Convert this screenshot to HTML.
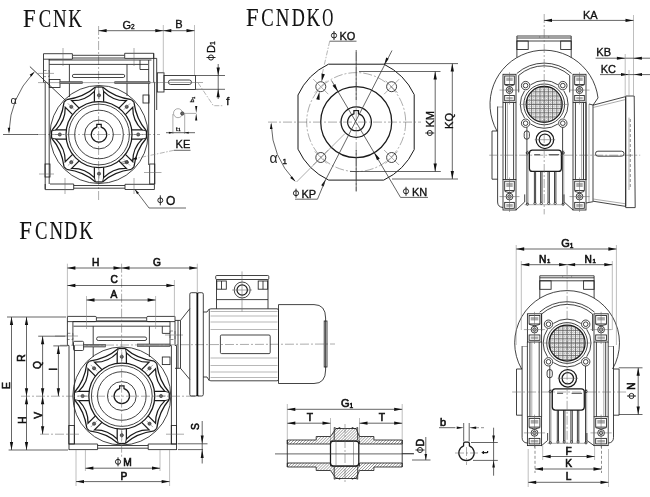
<!DOCTYPE html>
<html><head><meta charset="utf-8"><title>FCNK</title><style>
html,body{margin:0;padding:0;background:#fff}
svg{display:block;filter:grayscale(1) blur(.3px)}
.o{fill:none;stroke:#222;stroke-width:.85}
.t{fill:none;stroke:#666;stroke-width:.55}
.d{fill:none;stroke:#333;stroke-width:.75}
.c{fill:none;stroke:#666;stroke-width:.55;stroke-dasharray:9 2 2 2}
.l{fill:none;stroke:#777;stroke-width:.55;stroke-dasharray:5 1.5 1.5 1.5}
.ds{fill:none;stroke:#444;stroke-width:.6;stroke-dasharray:3 2}
.a{fill:#111;stroke:none}
.rod{fill:#999;stroke:#333;stroke-width:.6}
.bolt{fill:#666;stroke:#222;stroke-width:.6}
.hat{fill:none;stroke:#555;stroke-width:.5}
.ph{fill:none;stroke:#111;stroke-width:.9}
.tx{font-family:"Liberation Sans",sans-serif;fill:#111;stroke:#111;stroke-width:.35}
.tb{font-family:"Liberation Sans",sans-serif;fill:#111;stroke:#111;stroke-width:.6}
.tl{font-family:"Liberation Sans",sans-serif;fill:#222}
.ti{font-family:"Liberation Serif",serif;font-size:25.5px;fill:#111;stroke:#111;stroke-width:.15}
.w{fill:#fff;stroke:#222;stroke-width:.85}
.fillg{fill:#aaa;stroke:none}
.gbg{fill:#f6f6f6;stroke:none}
.gl{fill:none;stroke:#5a5a5a;stroke-width:.8}
.gl2{fill:none;stroke:#8a8a8a;stroke-width:.6;stroke-dasharray:1 1.1}
.fin{fill:none;stroke:#888;stroke-width:.6}
.e{fill:none;stroke:#888;stroke-width:.55}
.o2{fill:none;stroke:#1a1a1a;stroke-width:1}
.s2{fill:none;stroke:#111;stroke-width:1.7}
.s{fill:none;stroke:#1a1a1a;stroke-width:1.25}
</style></head>
<body><svg width="650" height="497" viewBox="0 0 650 497">
<rect x="0" y="0" width="650" height="497" fill="#fff"/>
<text class="ti" text-anchor="middle" transform="translate(29.4 27) scale(0.89 1)">F</text>
<text class="ti" text-anchor="middle" transform="translate(44.9 27) scale(0.73 1)">C</text>
<text class="ti" text-anchor="middle" transform="translate(59.7 27) scale(0.74 1)">N</text>
<text class="ti" text-anchor="middle" transform="translate(75 27) scale(0.74 1)">K</text>
<path class="c" d="M98.6 26L98.6 200"/>
<path class="c" d="M37 134.5L160 134.5"/>
<path class="d" d="M3 134.5L38 134.5"/>
<path class="o" d="M45.2 189.3L45.2 82.3L43.5 82.3L43.5 53.7L72.4 53.7L72.4 55.3L124.7 55.3L124.7 53.3L153.7 53.3L153.7 58.4"/>
<path class="o" d="M43.5 59.2L72.4 59.2"/>
<path class="o" d="M48.7 60L151.5 60"/>
<path class="o" d="M72.4 58L124.7 58"/>
<path class="o" d="M124.7 58.4L156.7 58.4"/>
<path class="o" d="M72.4 55.3L72.4 59"/>
<path class="o" d="M124.7 55.3L124.7 58.4"/>
<path class="o" d="M49.2 59L49.2 184"/>
<path class="o" d="M49.3 64.4L148 64.4"/>
<path class="o" d="M69.4 64.4L69.4 97"/>
<path class="o" d="M127 64.4L127 96"/>
<path class="o" d="M153.7 53.3L153.7 82.3L154.6 82.3L154.6 184"/>
<path class="o" d="M156.7 58.4L156.7 110"/>
<path class="o" d="M148.7 60L148.7 165"/>
<path class="o" d="M140 60L140 69.5L148.7 69.5"/>
<rect class="o" x="143" y="95" width="6" height="8"/>
<rect class="ds" x="43.5" y="70.5" width="5.7" height="6.1"/>
<path class="t" d="M38 73.4L54 73.4"/>
<rect class="o" x="45" y="164" width="5" height="13"/>
<path class="t" d="M39 174L54 174"/>
<rect class="o" x="149.7" y="164" width="5.1" height="20"/>
<path class="t" d="M144 172.5L161.5 172.5"/>
<path class="o" d="M45.2 184L45.2 189.6L73.7 189.6L73.7 184"/>
<path class="o" d="M50 184L73.7 184"/>
<path class="o" d="M73.7 185.5L125 185.5"/>
<path class="o" d="M73.7 188.2L125 188.2"/>
<path class="o" d="M125 184.3L125 189.5L154.4 189.5L154.4 184.3"/>
<path class="o" d="M125 184.3L154.4 184.3"/>
<path class="t" d="M65 178L65 194"/>
<path class="t" d="M134 178L134 194"/>
<path class="t" d="M63 48L63 66"/>
<path class="t" d="M134 48L134 66"/>
<rect class="o" x="72.4" y="74.4" width="52.3" height="3.1" rx="1.5"/>
<rect class="o" x="49.3" y="79.5" width="10.7" height="8"/>
<rect class="rod" x="60" y="81.7" width="22.5" height="1.9"/>
<rect class="rod" x="114.7" y="81.7" width="35.3" height="1.9"/>
<path class="t" d="M38 82.6L160 82.6"/>
<rect class="o" x="157.3" y="72.8" width="6.7" height="19.2"/>
<rect class="o" x="164" y="75.5" width="31.5" height="14"/>
<rect class="o" x="168.4" y="80" width="23.1" height="4.5" rx="2.2"/>
<path class="t" d="M160 82.5L203 82.5"/>
<circle class="o" cx="99" cy="134.5" r="49"/>
<path class="s" d="M146.47 131.01Q136.14 119.12 133.93 102.16"/>
<path class="s" d="M146.47 137.99L146.47 131.01"/>
<path class="s" d="M131.68 129.9L142.16 129.9Q132.44 120.65 132.77 107.24L125.36 114.65"/>
<path class="o" d="M146.47 137.99L142.16 139.1"/>
<path class="o" d="M146.47 131.01L142.16 129.9"/>
<circle class="bolt" cx="138.2" cy="134.5" r="1.6"/>
<path class="t" d="M134 134.5L143 134.5"/>
<path class="s" d="M131.34 99.57Q114.38 97.36 102.49 87.03"/>
<path class="s" d="M133.93 102.16L131.34 99.57"/>
<path class="s" d="M118.85 108.14L126.26 100.73Q112.85 101.06 103.6 91.34L103.6 101.82"/>
<circle class="bolt" cx="126.72" cy="106.78" r="1.6"/>
<path class="t" d="M123.75 109.75L130.11 103.39"/>
<path class="s" d="M95.51 87.03Q83.62 97.36 66.66 99.57"/>
<path class="s" d="M102.49 87.03L95.51 87.03"/>
<path class="s" d="M94.4 101.82L94.4 91.34Q85.15 101.06 71.74 100.73L79.15 108.14"/>
<path class="o" d="M102.49 87.03L103.6 91.34"/>
<path class="o" d="M95.51 87.03L94.4 91.34"/>
<circle class="bolt" cx="99" cy="95.3" r="1.6"/>
<path class="t" d="M99 99.5L99 90.5"/>
<path class="s" d="M64.07 102.16Q61.86 119.12 51.53 131.01"/>
<path class="s" d="M66.66 99.57L64.07 102.16"/>
<path class="s" d="M72.64 114.65L65.23 107.24Q65.56 120.65 55.84 129.9L66.32 129.9"/>
<circle class="bolt" cx="71.28" cy="106.78" r="1.6"/>
<path class="t" d="M74.25 109.75L67.89 103.39"/>
<path class="s" d="M51.53 137.99Q61.86 149.88 64.07 166.84"/>
<path class="s" d="M51.53 131.01L51.53 137.99"/>
<path class="s" d="M66.32 139.1L55.84 139.1Q65.56 148.35 65.23 161.76L72.64 154.35"/>
<path class="o" d="M51.53 131.01L55.84 129.9"/>
<path class="o" d="M51.53 137.99L55.84 139.1"/>
<circle class="bolt" cx="59.8" cy="134.5" r="1.6"/>
<path class="t" d="M64 134.5L55 134.5"/>
<path class="s" d="M66.66 169.43Q83.62 171.64 95.51 181.97"/>
<path class="s" d="M64.07 166.84L66.66 169.43"/>
<path class="s" d="M79.15 160.86L71.74 168.27Q85.15 167.94 94.4 177.66L94.4 167.18"/>
<circle class="bolt" cx="71.28" cy="162.22" r="1.6"/>
<path class="t" d="M74.25 159.25L67.89 165.61"/>
<path class="s" d="M102.49 181.97Q114.38 171.64 131.34 169.43"/>
<path class="s" d="M95.51 181.97L102.49 181.97"/>
<path class="s" d="M103.6 167.18L103.6 177.66Q112.85 167.94 126.26 168.27L118.85 160.86"/>
<path class="o" d="M95.51 181.97L94.4 177.66"/>
<path class="o" d="M102.49 181.97L103.6 177.66"/>
<circle class="bolt" cx="99" cy="173.7" r="1.6"/>
<path class="t" d="M99 169.5L99 178.5"/>
<path class="s" d="M133.93 166.84Q136.14 149.88 146.47 137.99"/>
<path class="s" d="M131.34 169.43L133.93 166.84"/>
<path class="s" d="M125.36 154.35L132.77 161.76Q132.44 148.35 142.16 139.1L131.68 139.1"/>
<circle class="bolt" cx="126.72" cy="162.22" r="1.6"/>
<path class="t" d="M123.75 159.25L130.11 165.61"/>
<circle class="s" cx="99" cy="134.5" r="33"/>
<circle class="o" cx="99" cy="134.5" r="30.4"/>
<circle class="o" cx="99" cy="134.5" r="24.3"/>
<circle class="o" cx="99" cy="134.5" r="14.4"/>
<path class="s" d="M101.2 127.12A7.7 7.7 0 1 1 96.8 127.12L96.8 124.3L101.2 124.3Z"/>
<path class="o" d="M29.9 66.6L66 100.8"/>
<path class="d" d="M33.18 73.12A90 90 0 0 0 9.05 131.36"/>
<path class="a" d="M34.81 71.42L31.48 76.58L29.65 74.74Z"/>
<path class="a" d="M9 133.71L7.7 127.71L10.3 127.71Z"/>
<text class="tl" x="10.5" y="104" font-size="11" text-anchor="start">α</text>
<path class="e" d="M163.3 25L163.3 72"/>
<path class="e" d="M194.5 25L194.5 75"/>
<path class="d" d="M98.6 30.7L194.5 30.7"/>
<path class="a" d="M98.6 30.7L106.6 29.05L106.6 32.35Z"/>
<path class="a" d="M163.3 30.7L155.3 32.35L155.3 29.05Z"/>
<path class="a" d="M163.3 30.7L171.3 29.05L171.3 32.35Z"/>
<path class="a" d="M194.5 30.7L186.5 32.35L186.5 29.05Z"/>
<text class="tx" x="122.5" y="28.5" font-size="11" text-anchor="start">G</text>
<text class="tx" x="131" y="28.5" font-size="6.5" text-anchor="start">2</text>
<text class="tx" x="175.3" y="27.8" font-size="11" text-anchor="start">B</text>
<path class="d" d="M195.5 75.5L225 75.5"/>
<path class="d" d="M195.5 89.3L225 89.3"/>
<path class="d" d="M218.2 64L218.2 99"/>
<path class="a" d="M218.2 75.5L216.55 67.5L219.85 67.5Z"/>
<path class="a" d="M218.2 89.3L219.85 97.3L216.55 97.3Z"/>
<text class="tx" x="215.3" y="53" font-size="11" text-anchor="start" transform="rotate(-90 215.3 53)">D</text>
<text class="tx" x="215.3" y="45" font-size="6.5" text-anchor="start" transform="rotate(-90 215.3 45)">1</text>
<g transform="rotate(-90 211 57.5)">
<ellipse class="ph" cx="211" cy="57.5" rx="2.6" ry="2.47"/>
<path class="ph" d="M211 53L211 62"/>
</g>
<path class="l" d="M198 82.8L213.4 105.7L223 105.7"/>
<text class="tx" x="226.3" y="104.5" font-size="11" text-anchor="start">f</text>
<circle class="t" cx="178" cy="113.2" r="4.5"/>
<circle class="bolt" cx="182.3" cy="113.5" r="1.7"/>
<path class="a" d="M196.2 113L195.1 106L197.3 106Z"/>
<path class="a" d="M196.2 113.3L197.3 120.5L195.1 120.5Z"/>
<path class="t" d="M184 113.4L196 113.4"/>
<path class="t" d="M172.9 114L172.9 134"/>
<path class="t" d="M184.7 114L184.7 134"/>
<path class="d" d="M166 132.7L195 132.7"/>
<path class="a" d="M172.9 132.7L168.9 133.7L168.9 131.7Z"/>
<path class="a" d="M184.7 132.7L188.7 131.7L188.7 133.7Z"/>
<text class="tx" x="176" y="130.5" font-size="6" text-anchor="start">t</text>
<text class="tx" x="178.2" y="131" font-size="4" text-anchor="start">1</text>
<text class="tx" x="194" y="102.5" font-size="6" text-anchor="start" transform="rotate(-90 194 102.5)">b</text>
<text class="tx" x="194.5" y="99" font-size="4" text-anchor="start" transform="rotate(-90 194.5 99)">1</text>
<text class="tx" x="175.6" y="148.4" font-size="11" text-anchor="start">KE</text>
<path class="d" d="M174 150.3L190.5 150.3"/>
<path class="l" d="M174 150.3L135 158.6"/>
<path class="a" d="M131 159.5L136.58 156.88L137.16 159.62Z"/>
<path class="rod" d="M121 162.5L128 160.5M122 164L129 162"/>
<path class="d" d="M135 189.5L149 208L186 208"/>
<path class="a" d="M135 189.5L138.97 192.77L137.05 194.22Z"/>
<ellipse class="ph" cx="160.3" cy="200.3" rx="2.5" ry="2.38"/>
<path class="ph" d="M160.3 195.3L160.3 205.3"/>
<text class="tx" x="166" y="205" font-size="12" text-anchor="start">O</text>
<text class="ti" text-anchor="middle" transform="translate(252.4 26) scale(0.89 1)">F</text>
<text class="ti" text-anchor="middle" transform="translate(267.5 26) scale(0.73 1)">C</text>
<text class="ti" text-anchor="middle" transform="translate(282.6 26) scale(0.74 1)">N</text>
<text class="ti" text-anchor="middle" transform="translate(298.2 26) scale(0.71 1)">D</text>
<text class="ti" text-anchor="middle" transform="translate(313.4 26) scale(0.74 1)">K</text>
<text class="ti" text-anchor="middle" transform="translate(327.9 26) scale(0.6 1)">O</text>
<path class="o2" d="M328.47 64.2L383.93 64.2A64.2 64.2 0 0 1 414.2 94.57L414.2 149.63A64.2 64.2 0 0 1 383.73 180.1L328.67 180.1A64.2 64.2 0 0 1 298 149.2L298 95A64.2 64.2 0 0 1 328.47 64.2Z"/>
<circle class="s" cx="356.2" cy="122.1" r="35.5"/>
<circle class="c" cx="356.2" cy="122.1" r="49.5"/>
<circle class="s" cx="356.2" cy="122.1" r="15.2"/>
<path class="s" d="M358.5 113.81A8.6 8.6 0 1 1 353.9 113.81L353.9 110.6L358.5 110.6Z"/>
<circle class="o" cx="320.8" cy="86.7" r="5"/>
<path class="t" d="M328.3 94.2L313.3 79.2"/>
<path class="t" d="M326.8 80.7L314.8 92.7"/>
<circle class="o" cx="320.8" cy="157.5" r="5"/>
<path class="t" d="M328.3 150L313.3 165"/>
<path class="t" d="M326.8 163.5L314.8 151.5"/>
<circle class="o" cx="391.6" cy="86.7" r="5"/>
<path class="t" d="M384.1 94.2L399.1 79.2"/>
<path class="t" d="M385.6 80.7L397.6 92.7"/>
<circle class="o" cx="391.6" cy="157.5" r="5"/>
<path class="t" d="M384.1 150L399.1 165"/>
<path class="t" d="M385.6 163.5L397.6 151.5"/>
<path class="c" d="M356.2 52L356.2 192"/>
<path class="c" d="M268 122.1L421 122.1"/>
<path class="d" d="M356.2 50L356.2 100"/>
<path class="d" d="M356.2 150L356.2 191"/>
<path class="d" d="M384 63.6L458 63.6"/>
<path class="d" d="M392 179L458 179"/>
<path class="d" d="M452.3 63.6L452.3 179"/>
<path class="a" d="M452.3 63.6L453.95 71.6L450.65 71.6Z"/>
<path class="a" d="M452.3 179L450.65 171L453.95 171Z"/>
<path class="d" d="M359 71.5L440.5 71.5"/>
<path class="d" d="M350 171.5L440.8 171.5"/>
<path class="d" d="M435.2 71.5L435.2 171.5"/>
<path class="a" d="M435.2 71.5L436.85 79.5L433.55 79.5Z"/>
<path class="a" d="M435.2 171.5L433.55 163.5L436.85 163.5Z"/>
<text class="tx" x="434" y="119.3" font-size="11" text-anchor="middle" transform="rotate(-90 434 119.3)">KM</text>
<g transform="rotate(-90 429.8 133)">
<ellipse class="ph" cx="429.8" cy="133" rx="2.6" ry="2.47"/>
<path class="ph" d="M429.8 128.5L429.8 137.5"/>
</g>
<text class="tx" x="453" y="121" font-size="11" text-anchor="middle" transform="rotate(-90 453 121)">KQ</text>
<path class="d" d="M392 50.5L325 181"/>
<path class="a" d="M384.3 64.4L386.19 57.52L388.7 58.78Z"/>
<path class="a" d="M325.6 179.6L323.71 186.48L321.2 185.22Z"/>
<path class="d" d="M325 181L317.5 199.2L295 199.2"/>
<ellipse class="ph" cx="296" cy="193.2" rx="2.6" ry="2.47"/>
<path class="ph" d="M296 188.7L296 197.7"/>
<text class="tx" x="301.5" y="197.6" font-size="11" text-anchor="start">KP</text>
<ellipse class="ph" cx="334" cy="35.5" rx="2.6" ry="2.47"/>
<path class="ph" d="M334 31L334 40"/>
<text class="tx" x="339.5" y="39.6" font-size="11" text-anchor="start">KO</text>
<path class="d" d="M329.7 41.2L356.5 41.2"/>
<path class="l" d="M329.7 41.2L322 75"/>
<path class="a" d="M321.6 81.8L321.53 73.62L324.86 74.3Z"/>
<path class="a" d="M319.5 91.7L319.57 99.88L316.24 99.2Z"/>
<path class="d" d="M331.5 80.5L400.5 197.4L428 197.4"/>
<path class="a" d="M338 91.8L332.54 85.74L335.29 84.1Z"/>
<path class="a" d="M374.3 152.5L379.76 158.56L377.01 160.2Z"/>
<ellipse class="ph" cx="406" cy="191.3" rx="2.6" ry="2.47"/>
<path class="ph" d="M406 186.8L406 195.8"/>
<text class="tx" x="412" y="195.7" font-size="11" text-anchor="start">KN</text>
<path class="d" d="M271.23 124.33A85 85 0 0 0 294.54 180.61"/>
<path class="a" d="M271.2 122.55L272.5 129.05L269.9 129.05Z"/>
<path class="a" d="M295.68 181.78L290.16 178.11L292 176.27Z"/>
<path class="t" d="M296.5 182L345 133.5"/>
<text class="tl" x="269.5" y="162.5" font-size="14" text-anchor="start">α</text>
<text class="tx" x="282.5" y="163.5" font-size="8" text-anchor="start">1</text>
<path class="o" d="M516.9 57.52L516.9 36L571.2 36L571.2 57.52"/>
<path class="o" d="M516.9 38L571.2 38"/>
<path class="o" d="M516.9 41L571.2 41"/>
<rect class="o" x="516.9" y="41" width="11.3" height="8.5"/>
<rect class="o" x="560.7" y="41" width="10.5" height="8.5"/>
<path class="t" d="M539.7 36L539.7 38"/>
<path class="t" d="M548.7 36L548.7 38"/>
<path class="o" d="M598.01 97.9A54.2 54.2 0 1 0 496.98 131"/>
<path class="o" d="M497.6 106.5V202Q497.6 207 503 207.5"/>
<path class="o" d="M497.6 131H492V179.2H497.6"/>
<path class="t" d="M497.6 107L503 107"/>
<path class="o" d="M571.6 73.5A41.3 41.3 0 0 0 516.8 73.5"/>
<path class="o" d="M569.7 75.42A38.6 38.6 0 0 0 518.7 75.42"/>
<path class="o" d="M518.7 75.4L518.7 92.4"/>
<path class="o" d="M569.7 75.4L569.7 92.4"/>
<rect class="o" x="503" y="74.3" width="13" height="28.2"/>
<rect class="o" x="504.7" y="76" width="9.6" height="8.45"/>
<rect class="o" x="504.7" y="95.45" width="9.6" height="5.35"/>
<rect class="fillg" x="506.3" y="77.6" width="6.4" height="3.35"/>
<rect class="fillg" x="506.3" y="97.05" width="6.4" height="2.35"/>
<circle class="o" cx="509.5" cy="90.09" r="3.4"/>
<circle class="o" cx="509.5" cy="90.09" r="1.7"/>
<path class="t" d="M499.5 90.09L519.5 90.09"/>
<path class="t" d="M509.5 72.3L509.5 104.5"/>
<path class="o" d="M504.7 84.89Q509.5 87.59 514.3 84.89"/>
<rect class="o" x="503" y="179.5" width="13" height="30.5"/>
<rect class="o" x="504.7" y="181.2" width="9.6" height="9.28"/>
<rect class="o" x="504.7" y="202.38" width="9.6" height="5.93"/>
<rect class="fillg" x="506.3" y="182.8" width="6.4" height="4.18"/>
<rect class="fillg" x="506.3" y="203.97" width="6.4" height="2.93"/>
<circle class="o" cx="509.5" cy="196.58" r="3.4"/>
<circle class="o" cx="509.5" cy="196.58" r="1.7"/>
<path class="t" d="M499.5 196.58L519.5 196.58"/>
<path class="t" d="M509.5 177.5L509.5 212"/>
<path class="o" d="M504.7 191.38Q509.5 194.08 514.3 191.38"/>
<path class="o" d="M516 102.5L516 179.5"/>
<path class="o" d="M513.6 102.5L513.6 179.5"/>
<path class="o" d="M505.5 102.5L505.5 179.5"/>
<path class="o" d="M503 102.5L503 179.5"/>
<path class="t" d="M507.4 102.5L507.4 179.5"/>
<rect class="o" x="573" y="74.3" width="13" height="28.2"/>
<rect class="o" x="574.7" y="76" width="9.6" height="8.45"/>
<rect class="o" x="574.7" y="95.45" width="9.6" height="5.35"/>
<rect class="fillg" x="576.3" y="77.6" width="6.4" height="3.35"/>
<rect class="fillg" x="576.3" y="97.05" width="6.4" height="2.35"/>
<circle class="o" cx="579.5" cy="90.09" r="3.4"/>
<circle class="o" cx="579.5" cy="90.09" r="1.7"/>
<path class="t" d="M569.5 90.09L589.5 90.09"/>
<path class="t" d="M579.5 72.3L579.5 104.5"/>
<path class="o" d="M574.7 84.89Q579.5 87.59 584.3 84.89"/>
<rect class="o" x="573" y="179.5" width="13" height="30.5"/>
<rect class="o" x="574.7" y="181.2" width="9.6" height="9.28"/>
<rect class="o" x="574.7" y="202.38" width="9.6" height="5.93"/>
<rect class="fillg" x="576.3" y="182.8" width="6.4" height="4.18"/>
<rect class="fillg" x="576.3" y="203.97" width="6.4" height="2.93"/>
<circle class="o" cx="579.5" cy="196.58" r="3.4"/>
<circle class="o" cx="579.5" cy="196.58" r="1.7"/>
<path class="t" d="M569.5 196.58L589.5 196.58"/>
<path class="t" d="M579.5 177.5L579.5 212"/>
<path class="o" d="M574.7 191.38Q579.5 194.08 584.3 191.38"/>
<path class="o" d="M573 102.5L573 179.5"/>
<path class="o" d="M575.4 102.5L575.4 179.5"/>
<path class="o" d="M583.5 102.5L583.5 179.5"/>
<path class="o" d="M586 102.5L586 179.5"/>
<path class="t" d="M581.6 102.5L581.6 179.5"/>
<clipPath id="g544"><circle cx="544.2" cy="104.4" r="18"/></clipPath>
<g clip-path="url(#g544)">
<rect class="gbg" x="526.2" y="86.4" width="36" height="36"/>
<path class="gl" d="M523.2 86.4L523.2 122.4"/>
<path class="gl" d="M526.2 83.4L562.2 83.4"/>
<path class="gl2" d="M525.3 86.4L525.3 122.4"/>
<path class="gl2" d="M526.2 85.5L562.2 85.5"/>
<path class="gl" d="M527.4 86.4L527.4 122.4"/>
<path class="gl" d="M526.2 87.6L562.2 87.6"/>
<path class="gl2" d="M529.5 86.4L529.5 122.4"/>
<path class="gl2" d="M526.2 89.7L562.2 89.7"/>
<path class="gl" d="M531.6 86.4L531.6 122.4"/>
<path class="gl" d="M526.2 91.8L562.2 91.8"/>
<path class="gl2" d="M533.7 86.4L533.7 122.4"/>
<path class="gl2" d="M526.2 93.9L562.2 93.9"/>
<path class="gl" d="M535.8 86.4L535.8 122.4"/>
<path class="gl" d="M526.2 96L562.2 96"/>
<path class="gl2" d="M537.9 86.4L537.9 122.4"/>
<path class="gl2" d="M526.2 98.1L562.2 98.1"/>
<path class="gl" d="M540 86.4L540 122.4"/>
<path class="gl" d="M526.2 100.2L562.2 100.2"/>
<path class="gl2" d="M542.1 86.4L542.1 122.4"/>
<path class="gl2" d="M526.2 102.3L562.2 102.3"/>
<path class="gl" d="M544.2 86.4L544.2 122.4"/>
<path class="gl" d="M526.2 104.4L562.2 104.4"/>
<path class="gl2" d="M546.3 86.4L546.3 122.4"/>
<path class="gl2" d="M526.2 106.5L562.2 106.5"/>
<path class="gl" d="M548.4 86.4L548.4 122.4"/>
<path class="gl" d="M526.2 108.6L562.2 108.6"/>
<path class="gl2" d="M550.5 86.4L550.5 122.4"/>
<path class="gl2" d="M526.2 110.7L562.2 110.7"/>
<path class="gl" d="M552.6 86.4L552.6 122.4"/>
<path class="gl" d="M526.2 112.8L562.2 112.8"/>
<path class="gl2" d="M554.7 86.4L554.7 122.4"/>
<path class="gl2" d="M526.2 114.9L562.2 114.9"/>
<path class="gl" d="M556.8 86.4L556.8 122.4"/>
<path class="gl" d="M526.2 117L562.2 117"/>
<path class="gl2" d="M558.9 86.4L558.9 122.4"/>
<path class="gl2" d="M526.2 119.1L562.2 119.1"/>
<path class="gl" d="M561 86.4L561 122.4"/>
<path class="gl" d="M526.2 121.2L562.2 121.2"/>
<path class="gl2" d="M563.1 86.4L563.1 122.4"/>
<path class="gl2" d="M526.2 123.3L562.2 123.3"/>
<path class="gl" d="M565.2 86.4L565.2 122.4"/>
<path class="gl" d="M526.2 125.4L562.2 125.4"/>
<path class="gl2" d="M567.3 86.4L567.3 122.4"/>
<path class="gl2" d="M526.2 127.5L562.2 127.5"/>
</g>
<circle class="s" cx="544.2" cy="104.4" r="18"/>
<circle class="o" cx="544.2" cy="104.4" r="20.4"/>
<circle class="w" cx="525.6" cy="85.6" r="4.2"/>
<circle class="o" cx="525.6" cy="85.6" r="2.3"/>
<circle class="w" cx="525.6" cy="123.2" r="4.2"/>
<circle class="o" cx="525.6" cy="123.2" r="2.3"/>
<circle class="w" cx="562.8" cy="85.6" r="4.2"/>
<circle class="o" cx="562.8" cy="85.6" r="2.3"/>
<circle class="w" cx="562.8" cy="123.2" r="4.2"/>
<circle class="o" cx="562.8" cy="123.2" r="2.3"/>
<path class="o" d="M563.78 118.11A23.9 23.9 0 0 0 563.78 90.69"/>
<path class="o" d="M557.91 84.82A23.9 23.9 0 0 0 530.49 84.82"/>
<path class="o" d="M524.62 90.69A23.9 23.9 0 0 0 524.62 118.11"/>
<path class="o" d="M530.49 123.98A23.9 23.9 0 0 0 557.91 123.98"/>
<rect class="o" x="524.2" y="130.9" width="5.2" height="8.3" rx="2.5"/>
<circle class="s" cx="544.9" cy="139.7" r="8.8"/>
<circle class="s" cx="544.9" cy="139.7" r="5.7"/>
<path class="t" d="M534.7 139.7L555.2 139.7"/>
<path class="o" d="M526.9 127.4L526.9 203.9"/>
<path class="t" d="M528.1 150.4L528.1 203.9"/>
<circle class="o" cx="527.4" cy="204.2" r="1.1"/>
<circle class="o" cx="527.4" cy="152.9" r="1.2"/>
<path class="o" d="M562.6 127.4L562.6 203.9"/>
<path class="t" d="M563.8 150.4L563.8 203.9"/>
<circle class="o" cx="563.1" cy="204.2" r="1.1"/>
<circle class="o" cx="563.1" cy="152.9" r="1.2"/>
<rect class="s" x="529.4" y="150.2" width="32" height="21.2" rx="3"/>
<path class="o" d="M534.2 154.7L540.2 154.7"/>
<path class="o" d="M548.7 154.7L559.2 154.7"/>
<path class="o" d="M534.4 171.4L534.4 202.4"/>
<path class="o" d="M535.6 171.4L535.6 202.4"/>
<circle class="o" cx="535" cy="203.4" r="1.1"/>
<path class="o" d="M540.6 171.4L540.6 202.4"/>
<path class="o" d="M542 171.4L542 202.4"/>
<circle class="o" cx="541.3" cy="203.4" r="1.1"/>
<path class="o" d="M548 171.4L548 202.4"/>
<path class="o" d="M549.4 171.4L549.4 202.4"/>
<circle class="o" cx="548.7" cy="203.4" r="1.1"/>
<path class="o" d="M554.5 171.4L554.5 202.4"/>
<path class="o" d="M555.9 171.4L555.9 202.4"/>
<circle class="o" cx="555.2" cy="203.4" r="1.1"/>
<path class="o" d="M516 210L524.7 201.9L524.7 194.4"/>
<path class="o" d="M573 210L564 201.9L564 194.4"/>
<path class="t" d="M524.7 204.7L564 204.7"/>
<path class="c" d="M489.2 155.2L640.2 155.2"/>
<path class="c" d="M544.2 14L544.2 214.4"/>
<path class="t" d="M520.2 104.4L568.2 104.4"/>
<path class="o" d="M598 97.9L593 105.2"/>
<path class="o" d="M586 102.5L586 180"/>
<path class="t" d="M589 104L589 202"/>
<path class="o" d="M593 105.2V201.2L625.7 206.4V96.6Z"/>
<path class="t" d="M593 107.5L625.7 99.5"/>
<path class="t" d="M593 199L625.7 203.8"/>
<path class="o" d="M625.7 96H634.2L635.2 207.6H625.7Z"/>
<path class="t" d="M629 117.6L629 190"/>
<path class="ds" d="M630.3 119L630.3 188"/>
<path class="o" d="M593 201.7L586 203"/>
<rect class="o" x="595.5" y="151.2" width="28.5" height="5" rx="2.4"/>
<path class="o" d="M593 105L589 104"/>
<path class="e" d="M633.5 15L633.5 96"/>
<path class="d" d="M544 20.4L633.5 20.4"/>
<path class="a" d="M544 20.4L552 18.75L552 22.05Z"/>
<path class="a" d="M633.5 20.4L625.5 22.05L625.5 18.75Z"/>
<text class="tx" x="583" y="19" font-size="11" text-anchor="start">KA</text>
<text class="tx" x="596.3" y="56.2" font-size="11" text-anchor="start">KB</text>
<path class="d" d="M595.6 58.2L650 58.2"/>
<path class="a" d="M625.4 58.2L616.9 59.7L616.9 56.7Z"/>
<path class="a" d="M633.4 58.2L641.9 56.7L641.9 59.7Z"/>
<text class="tx" x="600.7" y="73.2" font-size="11" text-anchor="start">KC</text>
<path class="d" d="M600 74.6L650 74.6"/>
<path class="a" d="M629 74.6L621 76.1L621 73.1Z"/>
<path class="a" d="M634 74.6L642 73.1L642 76.1Z"/>
<path class="e" d="M625.2 54L625.2 97"/>
<path class="e" d="M629 70L629 97"/>
<text class="ti" text-anchor="middle" transform="translate(25.6 238.8) scale(0.89 1)">F</text>
<text class="ti" text-anchor="middle" transform="translate(41.2 238.8) scale(0.73 1)">C</text>
<text class="ti" text-anchor="middle" transform="translate(56.3 238.8) scale(0.74 1)">N</text>
<text class="ti" text-anchor="middle" transform="translate(70.9 238.8) scale(0.71 1)">D</text>
<text class="ti" text-anchor="middle" transform="translate(86 238.8) scale(0.74 1)">K</text>
<path class="o" d="M69 450V345.5H67.4V316.4H95.2Q96.4 316.4 96.4 317.6V320.4Q96.4 321.6 95.2 321.6H67.4"/>
<path class="o" d="M176.5 450V345.5H175.0V316.4H147.9Q146.7 316.4 146.7 317.6V320.4Q146.7 321.6 147.9 321.6H175.0"/>
<path class="o" d="M96.4 317.8L146.7 317.8"/>
<path class="o" d="M96.4 320.9L146.7 320.9"/>
<path class="o" d="M72.9 321.6L72.9 345.5L74.4 345.5L74.4 444"/>
<path class="o" d="M72.9 321.6L170 321.6"/>
<path class="o" d="M73.5 326.2L170 326.2"/>
<path class="o" d="M170 321.6L170 345.5L171.4 345.5L171.4 444"/>
<path class="o" d="M93.2 326.2L93.2 357"/>
<path class="o" d="M149.4 326.2L149.4 357"/>
<path class="o" d="M162.3 326.2L162.3 333.4L170 333.4"/>
<rect class="o" x="162.3" y="357" width="7.7" height="7.6"/>
<rect class="ds" x="67.4" y="333.3" width="5.5" height="6.2"/>
<path class="t" d="M55 336L78 336"/>
<rect class="o" x="68.8" y="425.5" width="5.5" height="18.5"/>
<path class="c" d="M40 434.2L79 434.2"/>
<rect class="o" x="171.3" y="425.5" width="5.1" height="18.5"/>
<path class="t" d="M166 434.2L184 434.2"/>
<rect class="ds" x="170" y="331" width="5" height="8.5"/>
<path class="t" d="M165 335L183 335"/>
<path class="o" d="M69 444L97.6 444L97.6 449.6L69 449.6"/>
<path class="o" d="M176.5 444L148.2 444L148.2 449.6L176.5 449.6"/>
<path class="o" d="M97.6 445.5L148.2 445.5"/>
<path class="o" d="M97.6 448.2L148.2 448.2"/>
<rect class="o" x="96.6" y="337" width="50" height="3.5" rx="1.6"/>
<rect class="o" x="73.5" y="341.3" width="10.1" height="9.2" rx="1.2"/>
<rect class="rod" x="83.6" y="344.3" width="21.9" height="2.7"/>
<rect class="rod" x="137.5" y="344" width="32.5" height="2.4"/>
<circle class="o" cx="121.8" cy="396" r="49"/>
<path class="s" d="M169.27 392.51Q158.94 380.62 156.73 363.66"/>
<path class="s" d="M169.27 399.49L169.27 392.51"/>
<path class="s" d="M154.48 391.4L164.96 391.4Q155.24 382.15 155.57 368.74L148.16 376.15"/>
<path class="o" d="M169.27 399.49L164.96 400.6"/>
<path class="o" d="M169.27 392.51L164.96 391.4"/>
<circle class="bolt" cx="161" cy="396" r="1.6"/>
<path class="t" d="M156.8 396L165.8 396"/>
<path class="s" d="M154.14 361.07Q137.18 358.86 125.29 348.53"/>
<path class="s" d="M156.73 363.66L154.14 361.07"/>
<path class="s" d="M141.65 369.64L149.06 362.23Q135.65 362.56 126.4 352.84L126.4 363.32"/>
<circle class="bolt" cx="149.52" cy="368.28" r="1.6"/>
<path class="t" d="M146.55 371.25L152.91 364.89"/>
<path class="s" d="M118.31 348.53Q106.42 358.86 89.46 361.07"/>
<path class="s" d="M125.29 348.53L118.31 348.53"/>
<path class="s" d="M117.2 363.32L117.2 352.84Q107.95 362.56 94.54 362.23L101.95 369.64"/>
<path class="o" d="M125.29 348.53L126.4 352.84"/>
<path class="o" d="M118.31 348.53L117.2 352.84"/>
<circle class="bolt" cx="121.8" cy="356.8" r="1.6"/>
<path class="t" d="M121.8 361L121.8 352"/>
<path class="s" d="M86.87 363.66Q84.66 380.62 74.33 392.51"/>
<path class="s" d="M89.46 361.07L86.87 363.66"/>
<path class="s" d="M95.44 376.15L88.03 368.74Q88.36 382.15 78.64 391.4L89.12 391.4"/>
<circle class="bolt" cx="94.08" cy="368.28" r="1.6"/>
<path class="t" d="M97.05 371.25L90.69 364.89"/>
<path class="s" d="M74.33 399.49Q84.66 411.38 86.87 428.34"/>
<path class="s" d="M74.33 392.51L74.33 399.49"/>
<path class="s" d="M89.12 400.6L78.64 400.6Q88.36 409.85 88.03 423.26L95.44 415.85"/>
<path class="o" d="M74.33 392.51L78.64 391.4"/>
<path class="o" d="M74.33 399.49L78.64 400.6"/>
<circle class="bolt" cx="82.6" cy="396" r="1.6"/>
<path class="t" d="M86.8 396L77.8 396"/>
<path class="s" d="M89.46 430.93Q106.42 433.14 118.31 443.47"/>
<path class="s" d="M86.87 428.34L89.46 430.93"/>
<path class="s" d="M101.95 422.36L94.54 429.77Q107.95 429.44 117.2 439.16L117.2 428.68"/>
<circle class="bolt" cx="94.08" cy="423.72" r="1.6"/>
<path class="t" d="M97.05 420.75L90.69 427.11"/>
<path class="s" d="M125.29 443.47Q137.18 433.14 154.14 430.93"/>
<path class="s" d="M118.31 443.47L125.29 443.47"/>
<path class="s" d="M126.4 428.68L126.4 439.16Q135.65 429.44 149.06 429.77L141.65 422.36"/>
<path class="o" d="M118.31 443.47L117.2 439.16"/>
<path class="o" d="M125.29 443.47L126.4 439.16"/>
<circle class="bolt" cx="121.8" cy="435.2" r="1.6"/>
<path class="t" d="M121.8 431L121.8 440"/>
<path class="s" d="M156.73 428.34Q158.94 411.38 169.27 399.49"/>
<path class="s" d="M154.14 430.93L156.73 428.34"/>
<path class="s" d="M148.16 415.85L155.57 423.26Q155.24 409.85 164.96 400.6L154.48 400.6"/>
<circle class="bolt" cx="149.52" cy="423.72" r="1.6"/>
<path class="t" d="M146.55 420.75L152.91 427.11"/>
<circle class="s" cx="121.8" cy="396" r="33"/>
<circle class="o" cx="121.8" cy="396" r="30.4"/>
<circle class="o" cx="121.8" cy="396" r="24.3"/>
<circle class="o" cx="121.8" cy="396" r="14.4"/>
<path class="s" d="M124 388.62A7.7 7.7 0 1 1 119.6 388.62L119.6 385.8L124 385.8Z"/>
<path class="c" d="M121.6 263.7L121.6 458"/>
<path class="c" d="M21 396.2L200 396.2"/>
<path class="c" d="M60 345.3L335 344"/>
<path class="o" d="M175 320.4L180.5 320.4L189.8 308.7"/>
<path class="o" d="M175 368.3L180.5 368.3L189.8 379.4"/>
<path class="o" d="M180.5 320.4L180.5 368.3"/>
<path class="o" d="M178 320.4L178 368.3"/>
<rect class="o" x="189.8" y="292.7" width="7.6" height="103.3" rx="1.5"/>
<rect class="o" x="197.4" y="292.7" width="5.9" height="103.3" rx="1.5"/>
<path class="s2" d="M197.4 292.7L197.4 396"/>
<path class="o" d="M203.2 312L207 312L209.3 308.8"/>
<path class="o" d="M203.2 377L207 377L209.3 380.8"/>
<rect class="o" x="209.3" y="308.8" width="69.2" height="72" rx="1.5"/>
<path class="fin" d="M210.5 311.5L277.5 311.5"/>
<path class="fin" d="M210.5 316L277.5 316"/>
<path class="fin" d="M210.5 322L277.5 322"/>
<path class="fin" d="M210.5 329.5L277.5 329.5"/>
<path class="fin" d="M210.5 358L277.5 358"/>
<path class="fin" d="M210.5 365.5L277.5 365.5"/>
<path class="fin" d="M210.5 372L277.5 372"/>
<path class="fin" d="M210.5 377.5L277.5 377.5"/>
<rect class="o" x="220.4" y="335" width="49.8" height="18.6" rx="1.2"/>
<path class="o" d="M278.5 304.6H314Q325.6 304.6 325.6 318V370Q325.6 383.5 314 383.5H278.5Z"/>
<rect class="o" x="324.2" y="321" width="2.8" height="46"/>
<rect class="o" x="215.7" y="275.5" width="53.1" height="4" rx="1"/>
<path class="o" d="M216.5 279.5L216.5 308.8"/>
<path class="o" d="M268 279.5L268 308.8"/>
<rect class="o" x="216.8" y="281" width="9.5" height="8.2"/>
<rect class="o" x="258.2" y="281" width="9.5" height="8.2"/>
<path class="o" d="M221.5 281L221.5 289.2"/>
<path class="o" d="M263 281L263 289.2"/>
<path class="o" d="M216.5 299.6L268 299.6"/>
<circle class="o" cx="242.2" cy="290" r="8"/>
<circle class="s" cx="242.2" cy="290" r="5.2"/>
<path class="t" d="M242 271.4L242 311.5"/>
<path class="t" d="M232 290L252 290"/>
<path class="e" d="M67.4 263.7L67.4 317"/>
<path class="e" d="M174.4 280L174.4 317"/>
<path class="e" d="M86.5 296L86.5 329"/>
<path class="e" d="M155.6 296L155.6 329"/>
<path class="e" d="M197.3 263.7L197.3 292"/>
<path class="d" d="M67.4 268L197.3 268"/>
<path class="a" d="M67.4 268L75.4 266.35L75.4 269.65Z"/>
<path class="a" d="M121.5 268L113.5 269.65L113.5 266.35Z"/>
<path class="a" d="M121.5 268L129.5 266.35L129.5 269.65Z"/>
<path class="a" d="M197.3 268L189.3 269.65L189.3 266.35Z"/>
<text class="tb" x="92" y="265.8" font-size="10.2" text-anchor="start">H</text>
<text class="tb" x="153" y="265.8" font-size="10.2" text-anchor="start">G</text>
<path class="d" d="M67.4 285.5L174.4 285.5"/>
<path class="a" d="M67.4 285.5L75.4 283.85L75.4 287.15Z"/>
<path class="a" d="M174.4 285.5L166.4 287.15L166.4 283.85Z"/>
<text class="tb" x="110.5" y="283" font-size="10.2" text-anchor="start">C</text>
<path class="d" d="M86.5 300L155.6 300"/>
<path class="a" d="M86.5 300L94.5 298.35L94.5 301.65Z"/>
<path class="a" d="M155.6 300L147.6 301.65L147.6 298.35Z"/>
<text class="tb" x="110.5" y="298.3" font-size="10.2" text-anchor="start">A</text>
<path class="d" d="M7 317L66 317"/>
<path class="d" d="M8.6 450L68 450"/>
<path class="d" d="M11.5 317L11.5 450"/>
<path class="a" d="M11.5 317L13.15 325L9.85 325Z"/>
<path class="a" d="M11.5 450L9.85 442L13.15 442Z"/>
<text class="tb" x="10" y="385.5" font-size="10.2" text-anchor="middle" transform="rotate(-90 10 385.5)">E</text>
<path class="d" d="M26.5 317L26.5 450"/>
<path class="a" d="M26.5 317L28.15 325L24.85 325Z"/>
<path class="a" d="M26.5 396.2L24.85 388.2L28.15 388.2Z"/>
<path class="a" d="M26.5 396.2L28.15 404.2L24.85 404.2Z"/>
<path class="a" d="M26.5 450L24.85 442L28.15 442Z"/>
<text class="tb" x="25" y="358" font-size="10.2" text-anchor="middle" transform="rotate(-90 25 358)">R</text>
<text class="tb" x="25.5" y="420" font-size="10.2" text-anchor="middle" transform="rotate(-90 25.5 420)">H</text>
<path class="d" d="M38.2 336.2L65.4 336.2"/>
<path class="d" d="M42.6 336.2L42.6 434.2"/>
<path class="a" d="M42.6 336.2L44.25 344.2L40.95 344.2Z"/>
<path class="a" d="M42.6 396.2L40.95 388.2L44.25 388.2Z"/>
<path class="a" d="M42.6 396.2L44.25 404.2L40.95 404.2Z"/>
<path class="a" d="M42.6 434.2L40.95 426.2L44.25 426.2Z"/>
<text class="tb" x="41.2" y="365" font-size="10.2" text-anchor="middle" transform="rotate(-90 41.2 365)">Q</text>
<text class="tb" x="42" y="415.4" font-size="10.2" text-anchor="middle" transform="rotate(-90 42 415.4)">V</text>
<path class="d" d="M53.3 345.9L67.4 345.9"/>
<path class="d" d="M58.4 345.9L58.4 396.2"/>
<path class="a" d="M58.4 345.9L60.05 353.9L56.75 353.9Z"/>
<path class="a" d="M58.4 396.2L56.75 388.2L60.05 388.2Z"/>
<text class="tb" x="57" y="369.4" font-size="10.2" text-anchor="middle" transform="rotate(-90 57 369.4)">I</text>
<path class="d" d="M177.6 443.8L207.5 443.8"/>
<path class="d" d="M178 449.6L203 449.6"/>
<path class="d" d="M202.2 421L202.2 463.5"/>
<path class="a" d="M202.2 443.8L200.7 435.5L203.7 435.5Z"/>
<path class="a" d="M202.2 449.6L203.7 457.9L200.7 457.9Z"/>
<text class="tb" x="199.3" y="426.5" font-size="10.2" text-anchor="middle" transform="rotate(-90 199.3 426.5)">S</text>
<path class="e" d="M85.4 450L85.4 471"/>
<path class="e" d="M160 450L160 471"/>
<path class="e" d="M76 450L76 486"/>
<path class="e" d="M169.6 450L169.6 486"/>
<path class="d" d="M85.4 468.2L160 468.2"/>
<path class="a" d="M85.4 468.2L93.4 466.55L93.4 469.85Z"/>
<path class="a" d="M160 468.2L152 469.85L152 466.55Z"/>
<path class="d" d="M76 481.6L169.6 481.6"/>
<path class="a" d="M76 481.6L84 479.95L84 483.25Z"/>
<path class="a" d="M169.6 481.6L161.6 483.25L161.6 479.95Z"/>
<ellipse class="ph" cx="118" cy="461.8" rx="2.6" ry="2.47"/>
<path class="ph" d="M118 457.3L118 466.3"/>
<text class="tb" x="123.3" y="466" font-size="10.2" text-anchor="start">M</text>
<text class="tb" x="120.5" y="480" font-size="10.2" text-anchor="start">P</text>
<path class="e" d="M287.3 404L287.3 441"/>
<path class="e" d="M402.2 404L402.2 441"/>
<path class="e" d="M330.5 418L330.5 441"/>
<path class="e" d="M359.5 418L359.5 441"/>
<path class="d" d="M287.3 409.3L402.2 409.3"/>
<path class="a" d="M287.3 409.3L295.3 407.65L295.3 410.95Z"/>
<path class="a" d="M402.2 409.3L394.2 410.95L394.2 407.65Z"/>
<text class="tb" x="341" y="407.3" font-size="11" text-anchor="start">G</text>
<text class="tb" x="349.5" y="407.8" font-size="6.5" text-anchor="start">1</text>
<path class="d" d="M287.3 423.2L330.5 423.2"/>
<path class="a" d="M287.3 423.2L295.3 421.55L295.3 424.85Z"/>
<path class="a" d="M330.5 423.2L322.5 424.85L322.5 421.55Z"/>
<path class="d" d="M359.5 423.2L402.2 423.2"/>
<path class="a" d="M359.5 423.2L367.5 421.55L367.5 424.85Z"/>
<path class="a" d="M402.2 423.2L394.2 424.85L394.2 421.55Z"/>
<text class="tb" x="306.8" y="420.8" font-size="10.2" text-anchor="start">T</text>
<text class="tb" x="378.8" y="420.8" font-size="10.2" text-anchor="start">T</text>
<defs><pattern id="hp" width="2.1" height="2.1" patternUnits="userSpaceOnUse" patternTransform="rotate(45)"><line x1="0" y1="0" x2="0" y2="2.1" stroke="#444" stroke-width="0.8"/></pattern></defs>
<path d="M287.3 440H316.2V436.5H330.5L336 428.5H356L359.5 436.5H373.9V440H402.2V444H359.5V441H330.5V444H287.3Z" fill="url(#hp)" stroke="#222" stroke-width=".85"/>
<path d="M287.3 467H316.2V470.5H330.5L336 478.5H356L359.5 470.5H373.9V467H402.2V463H359.5V466H330.5V463H287.3Z" fill="url(#hp)" stroke="#222" stroke-width=".85"/>
<path class="o" d="M287.3 440L287.3 467"/>
<path class="o" d="M402.2 440L402.2 467"/>
<path class="o" d="M334.2 440V427.5M357.7 440V427.5M340 429V427.5M352 429V427.5"/>
<path class="o" d="M334.2 467V479.2M357.7 467V479.2M340 478V479.2M352 478V479.2"/>
<path class="o" d="M334.2 427.5Q337 430 340 427.5M352 427.5Q355 430 357.7 427.5"/>
<path class="o" d="M334.2 479.2Q337 477 340 479.2M352 479.2Q355 477 357.7 479.2"/>
<rect class="s" x="330.5" y="441" width="28.3" height="25" rx="3"/>
<path class="t" d="M336 441L336 466"/>
<path class="t" d="M353.5 441L353.5 466"/>
<path class="c" d="M345 424L345 482"/>
<path class="d" d="M275 453.9L414 453.9"/>
<path class="d" d="M401.8 453.5L413.8 453.5"/>
<path class="d" d="M412 460L430.5 460"/>
<path class="d" d="M425.8 437L425.8 460"/>
<path class="a" d="M425.8 460L424.5 454L427.1 454Z"/>
<text class="tb" x="423.8" y="442.5" font-size="10.2" text-anchor="middle" transform="rotate(-90 423.8 442.5)">D</text>
<g transform="rotate(-90 420 450)">
<ellipse class="ph" cx="420" cy="450" rx="2.6" ry="2.47"/>
<path class="ph" d="M420 445.5L420 454.5"/>
</g>
<path class="s" d="M469.4 445.87A7.7 7.7 0 1 1 463.6 445.87V443.5Q463.6 442 465.1 442H467.9Q469.4 442 469.4 443.5Z"/>
<path class="c" d="M455 453L478 453"/>
<path class="c" d="M466.5 447L466.5 465"/>
<text class="tb" x="440" y="425.8" font-size="11" text-anchor="start">b</text>
<path class="d" d="M439 427.7L455.4 427.7"/>
<path class="a" d="M463.7 427.7L456.7 429L456.7 426.4Z"/>
<path class="a" d="M469.2 427.7L476.2 426.4L476.2 429Z"/>
<path class="ds" d="M476 427.7L484 427.7"/>
<path class="d" d="M463.7 423L463.7 441.5"/>
<path class="d" d="M469.2 423L469.2 441.5"/>
<path class="d" d="M471 442.5L497.8 442.5"/>
<path class="d" d="M473 460.4L497.8 460.4"/>
<path class="d" d="M493.6 427.7L493.6 475.7"/>
<path class="a" d="M493.6 442.5L492.3 435.5L494.9 435.5Z"/>
<path class="a" d="M493.6 460.4L494.9 467.4L492.3 467.4Z"/>
<text class="tb" x="488.5" y="452.6" font-size="9" text-anchor="middle" transform="rotate(-90 488.5 452.6)">t</text>
<path class="o" d="M539.8 298.21L539.8 275.8L594.1 275.8L594.1 298.21"/>
<path class="o" d="M539.8 277.8L594.1 277.8"/>
<path class="o" d="M539.8 280.8L594.1 280.8"/>
<rect class="o" x="539.8" y="280.8" width="11.3" height="8.5"/>
<rect class="o" x="583.6" y="280.8" width="10.5" height="8.5"/>
<path class="t" d="M562.6 275.8L562.6 277.8"/>
<path class="t" d="M571.6 275.8L571.6 277.8"/>
<path class="o" d="M612.59 369A52.4 52.4 0 1 0 521.61 369"/>
<path class="o" d="M522.1 346V437.6Q522.1 442.6 527.4 443.1"/>
<path class="o" d="M522.1 369H516.5V415.2H522.1"/>
<path class="t" d="M522.1 346.5L527.4 346.5"/>
<path class="o" d="M613.5 346V437.6Q613.5 442.6 608.2 443.1"/>
<path class="o" d="M613.5 369H619.1V415.2H613.5"/>
<path class="t" d="M613.5 346.5L608.2 346.5"/>
<path class="o" d="M594.5 312.1A41.3 41.3 0 0 0 539.7 312.1"/>
<path class="o" d="M592.6 314.02A38.6 38.6 0 0 0 541.6 314.02"/>
<path class="o" d="M541.6 314L541.6 331"/>
<path class="o" d="M592.6 314L592.6 331"/>
<rect class="o" x="527.4" y="313.8" width="14.2" height="28.2"/>
<rect class="o" x="529.1" y="315.5" width="10.8" height="8.45"/>
<rect class="o" x="529.1" y="334.95" width="10.8" height="5.35"/>
<rect class="fillg" x="530.7" y="317.1" width="7.6" height="3.35"/>
<rect class="fillg" x="530.7" y="336.55" width="7.6" height="2.35"/>
<circle class="o" cx="534.5" cy="329.59" r="3.4"/>
<circle class="o" cx="534.5" cy="329.59" r="1.7"/>
<path class="t" d="M523.9 329.59L545.1 329.59"/>
<path class="t" d="M534.5 311.8L534.5 344"/>
<path class="o" d="M529.1 324.39Q534.5 327.09 539.9 324.39"/>
<rect class="o" x="527.4" y="416.7" width="14.2" height="28.9"/>
<rect class="o" x="529.1" y="418.4" width="10.8" height="8.7"/>
<rect class="o" x="529.1" y="438.38" width="10.8" height="5.53"/>
<rect class="fillg" x="530.7" y="420" width="7.6" height="3.6"/>
<rect class="fillg" x="530.7" y="439.98" width="7.6" height="2.53"/>
<circle class="o" cx="534.5" cy="432.88" r="3.4"/>
<circle class="o" cx="534.5" cy="432.88" r="1.7"/>
<path class="t" d="M523.9 432.88L545.1 432.88"/>
<path class="t" d="M534.5 414.7L534.5 447.6"/>
<path class="o" d="M529.1 427.68Q534.5 430.38 539.9 427.68"/>
<path class="o" d="M541.6 342L541.6 416.7"/>
<path class="o" d="M539.2 342L539.2 416.7"/>
<path class="o" d="M529.9 342L529.9 416.7"/>
<path class="o" d="M527.4 342L527.4 416.7"/>
<path class="t" d="M531.8 342L531.8 416.7"/>
<rect class="o" x="594" y="313.8" width="14.2" height="28.2"/>
<rect class="o" x="595.7" y="315.5" width="10.8" height="8.45"/>
<rect class="o" x="595.7" y="334.95" width="10.8" height="5.35"/>
<rect class="fillg" x="597.3" y="317.1" width="7.6" height="3.35"/>
<rect class="fillg" x="597.3" y="336.55" width="7.6" height="2.35"/>
<circle class="o" cx="601.1" cy="329.59" r="3.4"/>
<circle class="o" cx="601.1" cy="329.59" r="1.7"/>
<path class="t" d="M590.5 329.59L611.7 329.59"/>
<path class="t" d="M601.1 311.8L601.1 344"/>
<path class="o" d="M595.7 324.39Q601.1 327.09 606.5 324.39"/>
<rect class="o" x="594" y="416.7" width="14.2" height="28.9"/>
<rect class="o" x="595.7" y="418.4" width="10.8" height="8.7"/>
<rect class="o" x="595.7" y="438.38" width="10.8" height="5.53"/>
<rect class="fillg" x="597.3" y="420" width="7.6" height="3.6"/>
<rect class="fillg" x="597.3" y="439.98" width="7.6" height="2.53"/>
<circle class="o" cx="601.1" cy="432.88" r="3.4"/>
<circle class="o" cx="601.1" cy="432.88" r="1.7"/>
<path class="t" d="M590.5 432.88L611.7 432.88"/>
<path class="t" d="M601.1 414.7L601.1 447.6"/>
<path class="o" d="M595.7 427.68Q601.1 430.38 606.5 427.68"/>
<path class="o" d="M594 342L594 416.7"/>
<path class="o" d="M596.4 342L596.4 416.7"/>
<path class="o" d="M605.7 342L605.7 416.7"/>
<path class="o" d="M608.2 342L608.2 416.7"/>
<path class="t" d="M603.8 342L603.8 416.7"/>
<clipPath id="g567"><circle cx="567.1" cy="343" r="18"/></clipPath>
<g clip-path="url(#g567)">
<rect class="gbg" x="549.1" y="325" width="36" height="36"/>
<path class="gl" d="M546.1 325L546.1 361"/>
<path class="gl" d="M549.1 322L585.1 322"/>
<path class="gl2" d="M548.2 325L548.2 361"/>
<path class="gl2" d="M549.1 324.1L585.1 324.1"/>
<path class="gl" d="M550.3 325L550.3 361"/>
<path class="gl" d="M549.1 326.2L585.1 326.2"/>
<path class="gl2" d="M552.4 325L552.4 361"/>
<path class="gl2" d="M549.1 328.3L585.1 328.3"/>
<path class="gl" d="M554.5 325L554.5 361"/>
<path class="gl" d="M549.1 330.4L585.1 330.4"/>
<path class="gl2" d="M556.6 325L556.6 361"/>
<path class="gl2" d="M549.1 332.5L585.1 332.5"/>
<path class="gl" d="M558.7 325L558.7 361"/>
<path class="gl" d="M549.1 334.6L585.1 334.6"/>
<path class="gl2" d="M560.8 325L560.8 361"/>
<path class="gl2" d="M549.1 336.7L585.1 336.7"/>
<path class="gl" d="M562.9 325L562.9 361"/>
<path class="gl" d="M549.1 338.8L585.1 338.8"/>
<path class="gl2" d="M565 325L565 361"/>
<path class="gl2" d="M549.1 340.9L585.1 340.9"/>
<path class="gl" d="M567.1 325L567.1 361"/>
<path class="gl" d="M549.1 343L585.1 343"/>
<path class="gl2" d="M569.2 325L569.2 361"/>
<path class="gl2" d="M549.1 345.1L585.1 345.1"/>
<path class="gl" d="M571.3 325L571.3 361"/>
<path class="gl" d="M549.1 347.2L585.1 347.2"/>
<path class="gl2" d="M573.4 325L573.4 361"/>
<path class="gl2" d="M549.1 349.3L585.1 349.3"/>
<path class="gl" d="M575.5 325L575.5 361"/>
<path class="gl" d="M549.1 351.4L585.1 351.4"/>
<path class="gl2" d="M577.6 325L577.6 361"/>
<path class="gl2" d="M549.1 353.5L585.1 353.5"/>
<path class="gl" d="M579.7 325L579.7 361"/>
<path class="gl" d="M549.1 355.6L585.1 355.6"/>
<path class="gl2" d="M581.8 325L581.8 361"/>
<path class="gl2" d="M549.1 357.7L585.1 357.7"/>
<path class="gl" d="M583.9 325L583.9 361"/>
<path class="gl" d="M549.1 359.8L585.1 359.8"/>
<path class="gl2" d="M586 325L586 361"/>
<path class="gl2" d="M549.1 361.9L585.1 361.9"/>
<path class="gl" d="M588.1 325L588.1 361"/>
<path class="gl" d="M549.1 364L585.1 364"/>
<path class="gl2" d="M590.2 325L590.2 361"/>
<path class="gl2" d="M549.1 366.1L585.1 366.1"/>
</g>
<circle class="s" cx="567.1" cy="343" r="18"/>
<circle class="o" cx="567.1" cy="343" r="20.4"/>
<circle class="w" cx="548.5" cy="324.2" r="4.2"/>
<circle class="o" cx="548.5" cy="324.2" r="2.3"/>
<circle class="w" cx="548.5" cy="361.8" r="4.2"/>
<circle class="o" cx="548.5" cy="361.8" r="2.3"/>
<circle class="w" cx="585.7" cy="324.2" r="4.2"/>
<circle class="o" cx="585.7" cy="324.2" r="2.3"/>
<circle class="w" cx="585.7" cy="361.8" r="4.2"/>
<circle class="o" cx="585.7" cy="361.8" r="2.3"/>
<path class="o" d="M586.68 356.71A23.9 23.9 0 0 0 586.68 329.29"/>
<path class="o" d="M580.81 323.42A23.9 23.9 0 0 0 553.39 323.42"/>
<path class="o" d="M547.52 329.29A23.9 23.9 0 0 0 547.52 356.71"/>
<path class="o" d="M553.39 362.58A23.9 23.9 0 0 0 580.81 362.58"/>
<rect class="o" x="547.1" y="369.5" width="5.2" height="8.3" rx="2.5"/>
<circle class="s" cx="567.8" cy="378.3" r="8.8"/>
<circle class="s" cx="567.8" cy="378.3" r="5.7"/>
<path class="t" d="M557.6 378.3L578.1 378.3"/>
<path class="o" d="M549.8 366L549.8 442.5"/>
<path class="t" d="M551 389L551 442.5"/>
<circle class="o" cx="550.3" cy="442.8" r="1.1"/>
<circle class="o" cx="550.3" cy="391.5" r="1.2"/>
<path class="o" d="M585.5 366L585.5 442.5"/>
<path class="t" d="M586.7 389L586.7 442.5"/>
<circle class="o" cx="586" cy="442.8" r="1.1"/>
<circle class="o" cx="586" cy="391.5" r="1.2"/>
<rect class="s" x="552.3" y="388.8" width="32" height="21.2" rx="3"/>
<path class="o" d="M557.1 393.3L563.1 393.3"/>
<path class="o" d="M571.6 393.3L582.1 393.3"/>
<path class="o" d="M557.3 410L557.3 441"/>
<path class="o" d="M558.5 410L558.5 441"/>
<circle class="o" cx="557.9" cy="442" r="1.1"/>
<path class="o" d="M563.5 410L563.5 441"/>
<path class="o" d="M564.9 410L564.9 441"/>
<circle class="o" cx="564.2" cy="442" r="1.1"/>
<path class="o" d="M570.9 410L570.9 441"/>
<path class="o" d="M572.3 410L572.3 441"/>
<circle class="o" cx="571.6" cy="442" r="1.1"/>
<path class="o" d="M577.4 410L577.4 441"/>
<path class="o" d="M578.8 410L578.8 441"/>
<circle class="o" cx="578.1" cy="442" r="1.1"/>
<path class="o" d="M541.6 445.6L547.6 440.5L547.6 433"/>
<path class="o" d="M594 445.6L586.9 440.5L586.9 433"/>
<path class="t" d="M547.6 443.3L586.9 443.3"/>
<path class="c" d="M512.1 392L627.1 392"/>
<path class="c" d="M567.1 265.8L567.1 453"/>
<path class="t" d="M543.1 343L591.1 343"/>
<path class="e" d="M516.2 245L516.2 345"/>
<path class="e" d="M616.4 245L616.4 345"/>
<path class="e" d="M521.3 261L521.3 330"/>
<path class="e" d="M612.3 261L612.3 330"/>
<path class="d" d="M516.2 249L616.4 249"/>
<path class="a" d="M516.2 249L524.2 247.35L524.2 250.65Z"/>
<path class="a" d="M616.4 249L608.4 250.65L608.4 247.35Z"/>
<text class="tb" x="561.3" y="247.3" font-size="11" text-anchor="start">G</text>
<text class="tb" x="569.8" y="247.8" font-size="6.5" text-anchor="start">1</text>
<path class="d" d="M521.3 264.7L612.3 264.7"/>
<path class="a" d="M521.3 264.7L529.3 263.05L529.3 266.35Z"/>
<path class="a" d="M567.1 264.7L559.1 266.35L559.1 263.05Z"/>
<path class="a" d="M567.1 264.7L575.1 263.05L575.1 266.35Z"/>
<path class="a" d="M612.3 264.7L604.3 266.35L604.3 263.05Z"/>
<text class="tb" x="539" y="262.8" font-size="10.2" text-anchor="start">N</text>
<text class="tb" x="547" y="263.2" font-size="6" text-anchor="start">1</text>
<text class="tb" x="584.5" y="262.8" font-size="10.2" text-anchor="start">N</text>
<text class="tb" x="592.5" y="263.2" font-size="6" text-anchor="start">1</text>
<path class="d" d="M618.8 367.8L642.5 367.8"/>
<path class="d" d="M618.8 414.5L642.5 414.5"/>
<path class="d" d="M638.2 367.8L638.2 414.5"/>
<path class="a" d="M638.2 367.8L639.85 375.8L636.55 375.8Z"/>
<path class="a" d="M638.2 414.5L636.55 406.5L639.85 406.5Z"/>
<text class="tb" x="635.3" y="386" font-size="10.2" text-anchor="middle" transform="rotate(-90 635.3 386)">N</text>
<g transform="rotate(-90 631.5 396)">
<ellipse class="ph" cx="631.5" cy="396" rx="2.6" ry="2.47"/>
<path class="ph" d="M631.5 391.5L631.5 400.5"/>
</g>
<path class="e" d="M542.7 445.8L542.7 460"/>
<path class="e" d="M594.6 445.8L594.6 460"/>
<path class="ds" d="M535 445.8L535 473"/>
<path class="ds" d="M601.5 445.8L601.5 473"/>
<path class="e" d="M528.2 449L528.2 487"/>
<path class="e" d="M608.5 449L608.5 487"/>
<path class="d" d="M542.7 456.5L594.6 456.5"/>
<path class="a" d="M542.7 456.5L550.7 454.85L550.7 458.15Z"/>
<path class="a" d="M594.6 456.5L586.6 458.15L586.6 454.85Z"/>
<path class="d" d="M535 469L601.5 469"/>
<path class="a" d="M535 469L543 467.35L543 470.65Z"/>
<path class="a" d="M601.5 469L593.5 470.65L593.5 467.35Z"/>
<path class="d" d="M528.2 482.3L608.5 482.3"/>
<path class="a" d="M528.2 482.3L536.2 480.65L536.2 483.95Z"/>
<path class="a" d="M608.5 482.3L600.5 483.95L600.5 480.65Z"/>
<text class="tb" x="565.6" y="454.6" font-size="10.2" text-anchor="start">F</text>
<text class="tb" x="565.3" y="467.3" font-size="10.2" text-anchor="start">K</text>
<text class="tb" x="565.8" y="480" font-size="10.2" text-anchor="start">L</text>
</svg></body></html>
